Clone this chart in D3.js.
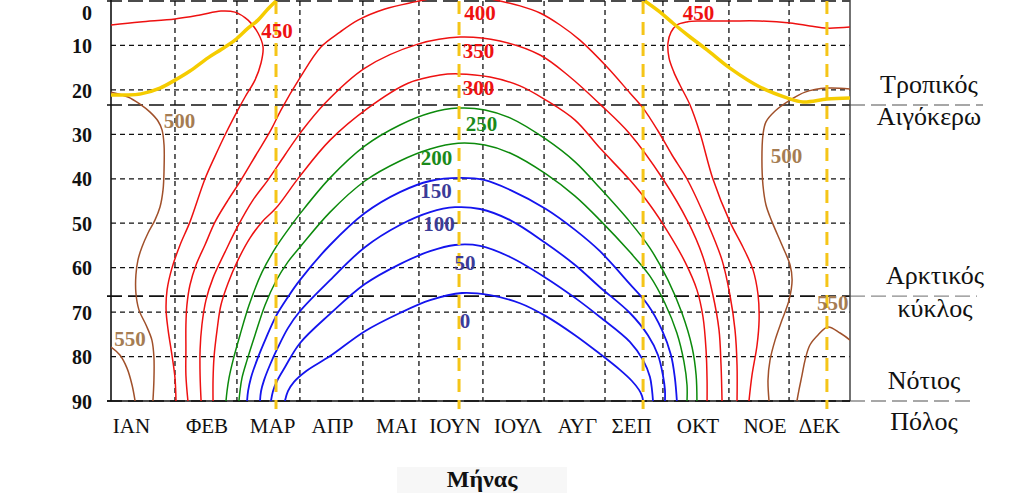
<!DOCTYPE html>
<html><head><meta charset="utf-8">
<script src="https://cdn.jsdelivr.net/npm/d3@7"></script>
<style>body{margin:0;background:#fff} svg{display:block}</style>
</head><body><svg id="c" width="1023" height="500"></svg>
<script>
// ---------- DATA (day of year, southern latitude in degrees) ----------
const monthLabels = ["ΙΑΝ","ΦΕΒ","ΜΑΡ","ΑΠΡ","ΜΑΙ","ΙΟΥΝ","ΙΟΥΛ","ΑΥΓ","ΣΕΠ","ΟΚΤ","ΝΟΕ","ΔΕΚ"];
const monthLabelDays = [10.1,47.4,79.8,109.4,141,169.9,201,230.4,257.1,289.9,323,349.9];
const gridDays = [31.6,62.2,93.3,124.4,152.1,183.7,213.9,244,272.6,305.2,334.9];
const latTicks = [0,10,20,30,40,50,60,70,80,90];
const gridLats = [10,20,30,40,50,60,70,80];
const refLats = [0,23.4,66.4,90];
const refNames = [["Τροπικός","Αιγόκερω"],["Αρκτικός","κύκλος"],["Νότιος","Πόλος"]];
const refNameLats = [23.4,66.4,90];
const markerDays = [81.5,171.9,262.8,353.6];

const c0 = [[85.9,90],[87.4,87.8],[90.4,85.7],[96.3,83.3],[108.2,79.9],[125.4,74.3],[142.7,70.2],[157.6,67.3],[173.4,65.7],[187.2,66.2],[202,68],[214.8,70.9],[229.2,75.2],[241.5,79.4],[251.4,83],[257.3,85.5],[260.8,87.5],[262.3,88.9],[262.8,90]];
const c50 = [[79,90],[80,87.8],[82,85.5],[85.9,82.4],[93.3,77],[108.2,70.4],[125.4,63.7],[142.7,59.2],[157.6,56.3],[169.9,54.9],[182.3,55.1],[197.1,57.6],[214.8,62.3],[229.2,66.8],[241.5,71.1],[256.3,76.7],[262.8,80.8],[266.2,84.6],[267.2,87.5],[267.7,90]];
const c100 = [[73.6,90],[74.1,87.8],[75.6,85.3],[78.5,81.9],[82.5,77.9],[87.4,73.6],[93.3,69.8],[108.2,62.8],[125.4,55.4],[142.7,50.4],[157.6,47.5],[169.9,46.4],[182.3,46.8],[197.1,49.3],[214.8,54.5],[229.2,59.4],[241.5,64.4],[256.3,70.2],[265.2,75.2],[270.2,79.7],[272.6,84.2],[273.6,87.5],[273.6,90]];
const c150 = [[67.2,90],[67.7,87.8],[69.1,84.8],[72.1,80.8],[76.6,75.8],[81.5,70.9],[87.4,66.6],[93.3,62.8],[108.2,54.9],[125.4,47.7],[142.7,43],[157.6,40.5],[172.4,39.8],[184.7,40.3],[197.1,42.5],[214.8,46.8],[229.2,51.5],[241.5,56.3],[256.3,63.7],[265.2,68.4],[272.1,74],[276.6,79.7],[278.5,84.8],[279.5,90]];
const c200 = [[63.2,90],[63.7,87.8],[64.7,84.8],[67.2,80.8],[71.1,75.2],[76.1,68.4],[81.5,63],[87.4,58.7],[93.3,55.4],[108.2,47.5],[125.4,40.5],[142.7,36],[157.6,33.3],[171.4,32],[184.7,32.4],[197.1,34.2],[214.8,38.9],[229.2,43.9],[241.5,49.3],[256.3,56.5],[266.2,61.9],[273.6,68],[279.5,74.7],[283,81.2],[284.5,86.4],[284.5,90]];
const c250 = [[56.8,90],[57.3,87.8],[58.3,84.8],[60.3,80.8],[63.7,75.2],[68.2,68.4],[74.6,61],[81.5,55.4],[87.4,51.5],[93.3,47.9],[108.2,39.8],[125.4,32.6],[142.7,27.9],[157.6,25.2],[171.4,24.1],[184.7,24.5],[197.1,26.3],[214.8,31.1],[229.2,36.2],[241.5,42.1],[256.3,49.7],[266.2,55.6],[275.1,62.8],[282,70.2],[287,77.9],[289,84.2],[289.4,90]];
const c300 = [[50.4,90],[50.4,85.3],[50.9,80.1],[52.4,74],[54.3,68.4],[57.8,63.5],[62.7,58.3],[68.7,53.3],[74.6,49.7],[81.5,46.6],[93.3,39.4],[108.2,31.3],[126.9,24.1],[146.7,18.5],[162.5,16.65],[171.4,16.4],[187.2,17.1],[202,19.1],[214.8,22.3],[229.2,26.8],[241.5,33.1],[256.3,40.3],[266.2,45.9],[275.1,52],[283.5,58.7],[289.4,65],[292.4,71.1],[293.9,78.5],[294.4,85.3],[294.4,90]];
const c350 = [[44.5,90],[44,84.2],[44,78.5],[44.9,72.9],[46.9,67.3],[50.4,62.3],[56.3,56.5],[62.7,50.6],[70.1,44.8],[77.5,40.3],[85.9,34.65],[93.8,29.5],[105.7,23],[125.4,15.1],[151.6,9.7],[172.4,8.1],[192.1,9],[211.9,12.15],[226.7,17.1],[241.5,23.2],[256.3,29.9],[272.6,40.05],[285,49.7],[292.4,57.6],[297.3,66.15],[300.3,74],[301.3,81.9],[301.8,90]];
const c400 = [[38,90],[37,84.2],[37,78.5],[37,72.9],[37.5,68.4],[39,63.9],[42,59.4],[46.4,54.9],[51.4,49.7],[57.8,44.8],[64.2,40.3],[71.6,34.65],[79,29],[84,24.5],[93.3,17.3],[103.7,10.35],[113.1,7],[122,4.3],[135.3,1.8],[150.1,0.2],[162.5,-0.9],[171.4,-1.35],[182.3,-0.9],[192.1,0],[202,1.1],[211.9,2.7],[221.8,5.4],[231.6,8.8],[245,14.85],[256.3,20.7],[262.8,24.1],[270.2,29.25],[277.1,34.65],[284.5,40.05],[294.4,49.7],[301.8,58.3],[305.7,66.15],[308.2,74],[309.2,81.9],[309.2,90]];
const c450a = [[0,5.4],[14.3,4.7],[31.6,4.05],[44,3.15],[54.3,2.25],[61.2,2.5],[67.7,4.3],[72.6,7.2],[75.1,10.35],[74.1,13.95],[71.1,17.8],[66.2,21.6],[62.7,24.5],[56.8,29.7],[51.4,34.9],[46.4,40.05],[39,49.7],[34.1,54.9],[30.1,60.1],[27.7,65],[27.2,69.5],[28.2,74],[30.1,79.65],[31.6,84.8],[32.1,90]];
const c450b = [[365,5.85],[353.6,6.1],[345.2,5.6],[335.4,4.95],[320.5,4.5],[305.7,4.5],[290.9,4.5],[284.5,4.7],[279.5,5.4],[276.6,7],[275.1,9.45],[275.6,12.8],[278,16],[281,18.9],[286,23.4],[290.9,29.7],[297.3,40.05],[305.7,49.7],[312.1,55.35],[317.1,60.5],[319.6,66.15],[320.1,71.8],[319.1,77.4],[316.6,84.2],[315.1,90]];
const c500a = [[0,20.5],[8.4,21.6],[14.3,23.2],[19.3,25],[23.2,27],[25.2,29],[26.2,32.4],[26.2,38],[25.7,42.5],[24.2,46.35],[21.7,49.3],[18.3,52.2],[15.3,55.35],[13.3,58.3],[12.3,61.65],[12.3,65.7],[13.8,69.5],[17.3,72.9],[20.2,76.3],[21.2,80.1],[21.2,85.3],[20.7,90]];
const c500b = [[365,19.8],[353.6,19.6],[342.8,20.5],[335.4,22.3],[328,24.75],[323.5,27.2],[322,30.15],[321.5,35.8],[322,41.4],[323.5,45.9],[326.5,49.7],[331.4,54.9],[335.4,59.4],[336.4,62.8],[334.9,67.3],[331.4,71.8],[328,76.3],[325.5,80.8],[324.5,85.3],[325,90]];
const c550a = [[0,77.85],[4.4,79.65],[7.9,82.6],[10.4,86.4],[11.9,90]];
const c550b = [[365,76.3],[360.1,74.7],[354.1,73.35],[349.2,75.15],[345.2,77.4],[342.8,80.8],[341.3,84.2],[339.8,87.5],[338.8,90]];
const sunA = [[0,21.15],[6.9,21.15],[14.8,20.9],[24.2,19.6],[31.6,17.8],[39,15.75],[47.9,12.8],[54.8,10.8],[61.2,8.8],[67.7,6.1],[72.6,4.3],[77.5,1.8],[81.5,0]];
const sunB = [[263.7,0],[271.2,2.5],[277.6,5],[286,8.1],[294.4,11],[305.7,15.1],[320.5,19.35],[333.9,21.8],[341.8,22.7],[353.6,22.05],[365,21.8]];

// contour labels: [text, day, lat, group]
const contourLabels = [
  ["450",82,8.3,"red"],["500",33.8,28.6,"brown"],["550",9.4,77.6,"brown"],
  ["400",182.3,4.3,"red"],["350",181.5,12.8,"red"],["300",181.5,21.15,"red"],
  ["250",183,29.25,"green"],["200",160.8,36.9,"green"],["150",160.5,44.3,"blue"],
  ["100",162,51.75,"blue"],["50",174.8,60.5,"blue"],["0",174.8,73.6,"blue"],
  ["450",290.2,4.3,"red"],["500",333.6,36.45,"brown"],["550",348.7,69.5,"brown"]
];

// ---------- DRAWING ----------
const lineColor = {red:"#ee1111", green:"#0c8a0c", blue:"#1414ee", brown:"#a0502a"};
const labelColor = {red:"#ee1111", green:"#1a8a1a", blue:"#3b3b98", brown:"#a57c52"};
const contours = [
  {pts:c0,g:"blue"},{pts:c50,g:"blue"},{pts:c100,g:"blue"},{pts:c150,g:"blue"},
  {pts:c200,g:"green"},{pts:c250,g:"green"},
  {pts:c300,g:"red"},{pts:c350,g:"red"},{pts:c400,g:"red"},{pts:c450a,g:"red"},{pts:c450b,g:"red"},
  {pts:c500a,g:"brown"},{pts:c500b,g:"brown"},{pts:c550a,g:"brown"},{pts:c550b,g:"brown"}
];

const svg = d3.select("#c");
svg.append("rect").attr("width",1023).attr("height",500).attr("fill","#fff");
const x = d3.scaleLinear().domain([0,365]).range([111,850]);
const y = d3.scaleLinear().domain([0,90]).range([1,401]);
const X0 = x(0), X1 = x(365), Y0 = y(0), Y1 = y(90);

svg.append("defs").append("clipPath").attr("id","plot")
  .append("rect").attr("x",X0).attr("y",-20).attr("width",X1-X0).attr("height",Y1+20);

// faint box behind axis title
svg.append("rect").attr("x",397).attr("y",467).attr("width",170).attr("height",26).attr("fill","#f7f7f7");

// grid
const g = svg.append("g");
g.selectAll("line.gh").data(gridLats).join("line")
  .attr("x1",X0).attr("x2",X1).attr("y1",d=>y(d)).attr("y2",d=>y(d))
  .attr("stroke","#111").attr("stroke-width",1.3).attr("stroke-dasharray","5,4");
g.selectAll("line.gv").data(gridDays).join("line")
  .attr("x1",d=>x(d)).attr("x2",d=>x(d)).attr("y1",Y0).attr("y2",Y1)
  .attr("stroke","#111").attr("stroke-width",1.3).attr("stroke-dasharray","5,4");

// reference long-dash lines (equator, tropic, arctic circle, pole)
g.selectAll("line.ref").data(refLats).join("line")
  .attr("x1",X0-4).attr("x2",X1).attr("y1",d=>y(d)).attr("y2",d=>y(d))
  .attr("stroke","#111").attr("stroke-width",1.6).attr("stroke-dasharray","15,6");
g.selectAll("line.refx").data(refNameLats).join("line")
  .attr("x1",X1).attr("x2",(d,i)=>[983,977,970][i]).attr("y1",d=>y(d)).attr("y2",d=>y(d))
  .attr("stroke","#8a8a8a").attr("stroke-width",1.4).attr("stroke-dasharray","15,6");

// axes frame
g.append("line").attr("x1",X0).attr("x2",X0).attr("y1",Y0-2).attr("y2",Y1).attr("stroke","#111").attr("stroke-width",1.6);
g.append("line").attr("x1",X1).attr("x2",X1).attr("y1",Y0-2).attr("y2",Y1).attr("stroke","#444").attr("stroke-width",1.5);
g.append("line").attr("x1",X0-4).attr("x2",X1).attr("y1",Y1).attr("y2",Y1).attr("stroke","#111").attr("stroke-width",1.4);

// contours
const line = d3.line().x(d=>x(d[0])).y(d=>y(d[1])).curve(d3.curveCatmullRom.alpha(0.5));
const cg = svg.append("g").attr("clip-path","url(#plot)");
cg.selectAll("path.ct").data(contours).join("path")
  .attr("d",d=>line(d.pts)).attr("fill","none")
  .attr("stroke",d=>lineColor[d.g]).attr("stroke-width",d=>d.g==="blue"?1.8:1.5);

// solstice / equinox markers
cg.selectAll("line.mk").data(markerDays).join("line")
  .attr("x1",d=>x(d)).attr("x2",d=>x(d)).attr("y1",Y0).attr("y2",Y1+8)
  .attr("stroke","#f5c518").attr("stroke-width",3).attr("stroke-dasharray","13,8");
svg.selectAll("line.mk2").data(markerDays).join("line")
  .attr("x1",d=>x(d)).attr("x2",d=>x(d)).attr("y1",Y1).attr("y2",Y1+8)
  .attr("stroke","#f5c518").attr("stroke-width",3);

// subsolar curve
cg.selectAll("path.sun").data([sunA,sunB]).join("path")
  .attr("d",d=>line(d)).attr("fill","none").attr("stroke","#f5cc00").attr("stroke-width",3.5);

// contour labels
const lg = svg.append("g").attr("clip-path","url(#plot)");
lg.selectAll("text").data(contourLabels).join("text")
  .attr("x",d=>x(d[1])).attr("y",d=>y(d[2]))
  .attr("text-anchor",(d,i)=>i===14?"start":"middle")
  .attr("font-family","'Liberation Serif','Times New Roman',serif")
  .attr("font-weight","bold").attr("font-size",21)
  .attr("fill",d=>labelColor[d[3]]).text(d=>d[0]);

// y axis
const yAxis = d3.axisLeft(y).tickValues(latTicks).tickSize(0).tickPadding(19);
const ya = svg.append("g").attr("transform",`translate(${X0},0)`).call(yAxis);
ya.select(".domain").remove();
ya.selectAll("text").attr("font-family","'Liberation Serif','Times New Roman',serif")
  .attr("font-weight","bold").attr("font-size",20).attr("fill","#111")
  .attr("dy",d=>d===0?"0.9em":"0.36em");

// month labels
svg.selectAll("text.mon").data(monthLabels).join("text")
  .attr("x",(d,i)=>x(monthLabelDays[i])).attr("y",Y1+32)
  .attr("text-anchor","middle")
  .attr("font-family","'Liberation Serif','Times New Roman',serif")
  .attr("font-size",21).attr("fill","#111").text(d=>d);

// reference names on the right
const rn = svg.append("g");
refNames.forEach((pair,i)=>{
  const cx = [929,935,924][i];
  rn.append("text").attr("x",cx).attr("y",y(refNameLats[i])-12)
    .attr("text-anchor","middle").attr("font-family","'Liberation Serif','Times New Roman',serif")
    .attr("font-size",26).attr("fill","#111").text(pair[0]);
  rn.append("text").attr("x",cx).attr("y",y(refNameLats[i])+[20,21,29][i])
    .attr("text-anchor","middle").attr("font-family","'Liberation Serif','Times New Roman',serif")
    .attr("font-size",26).attr("fill","#111").text(pair[1]);
});

// axis title
svg.append("text").attr("x",482).attr("y",487).attr("text-anchor","middle")
  .attr("font-family","'Liberation Serif','Times New Roman',serif")
  .attr("font-weight","bold").attr("font-size",24).attr("fill","#111").text("Μήνας");
</script></body></html>
